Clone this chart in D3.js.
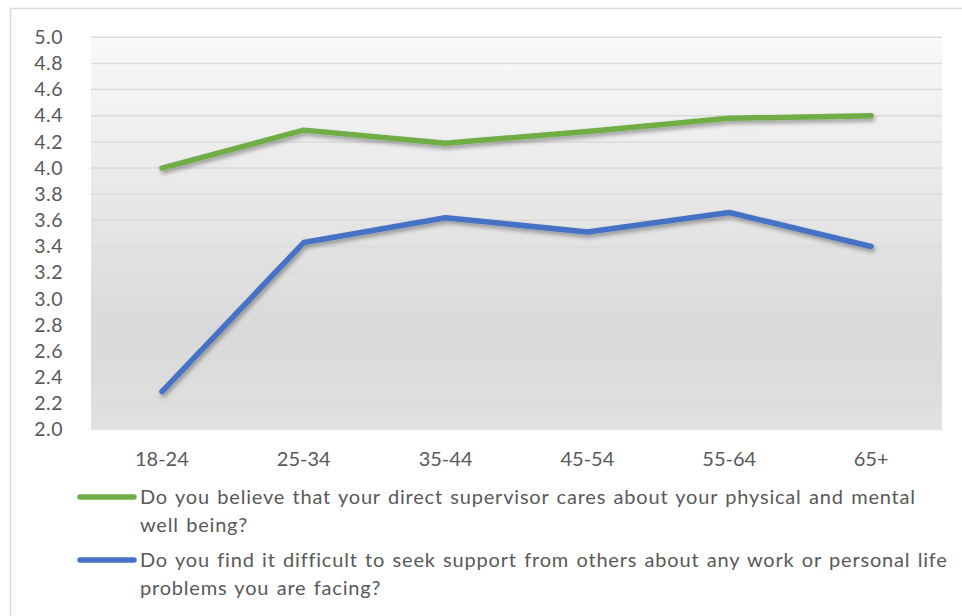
<!DOCTYPE html>
<html>
<head>
<meta charset="utf-8">
<script src="https://cdn.jsdelivr.net/npm/d3@7"></script>
<style>
  html, body { margin: 0; padding: 0; background: #fff; }
  svg { display: block; }
</style>
</head>
<body>
<svg id="chart" width="962" height="616"></svg>
<script>
// Age groups along the x axis
const ageGroups = ["18-24", "25-34", "35-44", "45-54", "55-64", "65+"];

// Mean scores per age group
const supervisorCares = [4.00, 4.29, 4.19, 4.28, 4.38, 4.40];
const difficultToSeekSupport = [2.29, 3.43, 3.62, 3.51, 3.66, 3.40];

// Y axis ticks
const yTicks = [2.0, 2.2, 2.4, 2.6, 2.8, 3.0, 3.2, 3.4, 3.6, 3.8, 4.0, 4.2, 4.4, 4.6, 4.8, 5.0];

// Legend entries, already broken into their two lines
const seriesNames = [
  ["Do you believe that your direct supervisor cares about your physical and mental", "well being?"],
  ["Do you find it difficult to seek support from others about any work or personal life", "problems you are facing?"]
];
const seriesColors = ["#70ad47", "#4472c4"];

const svg = d3.select("#chart");
const font = "Lato, 'Open Sans', sans-serif";
const textColor = "#595959";

// Outer chart frame
svg.append("rect")
  .attr("x", 10.5).attr("y", 8.5)
  .attr("width", 980).attr("height", 640)
  .attr("fill", "#fff")
  .attr("stroke", "#d9d9d9").attr("stroke-width", 1.5);

const plot = { left: 91, right: 942, top: 37.3, bottom: 429.5 };

const x = d3.scaleBand().domain(ageGroups).range([plot.left, plot.right]);
const y = d3.scaleLinear().domain([2, 5]).range([plot.bottom, plot.top]);

const defs = svg.append("defs");
const grad = defs.append("linearGradient")
  .attr("id", "plotBg").attr("x1", 0).attr("y1", 0).attr("x2", 0).attr("y2", 1);
[[0, "#f9f9f9"], [0.45, "#e6e6e6"], [0.75, "#d9d9d9"], [1, "#e1e1e1"]].forEach(([o, c]) =>
  grad.append("stop").attr("offset", o).attr("stop-color", c));

const shadow = defs.append("filter")
  .attr("id", "lineShadow")
  .attr("x", "-10%").attr("y", "-30%").attr("width", "120%").attr("height", "160%");
shadow.append("feDropShadow")
  .attr("dx", 1.5).attr("dy", 3).attr("stdDeviation", 2)
  .attr("flood-color", "#000").attr("flood-opacity", 0.35);

// Plot background
svg.append("rect")
  .attr("x", plot.left).attr("y", plot.top)
  .attr("width", plot.right - plot.left).attr("height", plot.bottom - plot.top)
  .attr("fill", "url(#plotBg)");

// Horizontal gridlines
svg.append("g")
  .selectAll("line")
  .data(yTicks)
  .join("line")
  .attr("x1", plot.left).attr("x2", plot.right)
  .attr("y1", d => y(d)).attr("y2", d => y(d))
  .attr("stroke", d => d === 2 ? "#e6e6e6" : "#dadada")
  .attr("stroke-width", 1.5);

// Y axis labels
const yAxis = svg.append("g")
  .attr("transform", `translate(${plot.left - 28},0)`)
  .call(d3.axisLeft(y).tickValues(yTicks).tickFormat(d3.format(".1f")).tickSize(0).tickPadding(0));
yAxis.select(".domain").remove();
yAxis.selectAll("text")
  .attr("fill", textColor)
  .style("font-family", font)
  .style("font-size", "19.5px")
  .style("letter-spacing", "0.5px");

// X axis labels
const xAxis = svg.append("g")
  .attr("transform", `translate(0,${plot.bottom})`)
  .call(d3.axisBottom(x).tickSize(0).tickPadding(22));
xAxis.select(".domain").remove();
xAxis.selectAll("text")
  .attr("fill", textColor)
  .style("font-family", font)
  .style("font-size", "20px");

// Series lines
const line = d3.line()
  .x((d, i) => x(ageGroups[i]) + x.bandwidth() / 2)
  .y(d => y(d));

svg.append("g")
  .selectAll("path")
  .data([supervisorCares, difficultToSeekSupport])
  .join("path")
  .attr("d", line)
  .attr("fill", "none")
  .attr("stroke", (d, i) => seriesColors[i])
  .attr("stroke-width", 5.5)
  .attr("stroke-linecap", "round")
  .attr("stroke-linejoin", "round")
  .attr("filter", "url(#lineShadow)");

// Legend
const legendRows = [{ swatchY: 497, baselines: [504, 532] }, { swatchY: 560, baselines: [567, 595] }];
const legend = svg.append("g");
seriesNames.forEach((lines, i) => {
  const row = legendRows[i];
  legend.append("line")
    .attr("x1", 80).attr("x2", 134)
    .attr("y1", row.swatchY).attr("y2", row.swatchY)
    .attr("stroke", seriesColors[i]).attr("stroke-width", 5.5)
    .attr("stroke-linecap", "round");
  lines.forEach((t, j) => {
    legend.append("text")
      .attr("x", 140).attr("y", row.baselines[j])
      .attr("fill", textColor)
      .style("font-family", font)
      .style("font-size", "20px")
      .style("letter-spacing", "0.8px")
      .style("word-spacing", "1.5px")
      .text(t);
  });
});
</script>
</body>
</html>
